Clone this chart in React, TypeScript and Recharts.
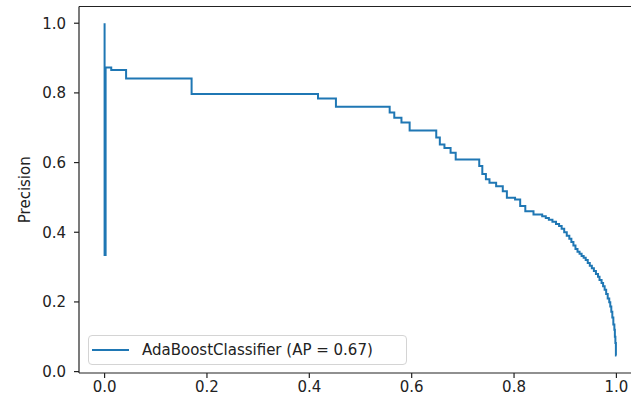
import { LineChart, Line, XAxis, YAxis, ReferenceLine, Legend } from 'recharts';

// precision-recall curve, ordered by increasing recall
const recall = [
  0, 0.002, 0.013, 0.042, 0.17, 0.417, 0.452, 0.557, 0.566, 0.58, 0.596, 0.648,
  0.655, 0.664, 0.676, 0.686, 0.732, 0.738, 0.745, 0.752, 0.765, 0.778, 0.786,
  0.802, 0.812, 0.822, 0.838, 0.855, 0.862, 0.868, 0.875, 0.882, 0.888, 0.893,
  0.898, 0.903, 0.908, 0.912, 0.916, 0.92, 0.924, 0.928, 0.932, 0.936, 0.94,
  0.944, 0.948, 0.952, 0.956, 0.96, 0.964, 0.967, 0.971, 0.974, 0.977, 0.98,
  0.983, 0.986, 0.988, 0.99, 0.992, 0.994, 0.996, 0.997, 0.998, 0.999, 1.0,
];
const precision = [
  1.0, 0.335, 0.873, 0.866, 0.841, 0.797, 0.784, 0.76, 0.744, 0.729, 0.715, 0.692,
  0.672, 0.652, 0.642, 0.628, 0.609, 0.59, 0.567, 0.552, 0.542, 0.532, 0.518,
  0.499, 0.494, 0.475, 0.46, 0.451, 0.446, 0.441, 0.436, 0.43, 0.424, 0.418,
  0.41, 0.4, 0.39, 0.381, 0.372, 0.362, 0.352, 0.344, 0.338, 0.332, 0.327,
  0.32, 0.312, 0.304, 0.297, 0.289, 0.28, 0.272, 0.263, 0.254, 0.245, 0.235,
  0.223, 0.21, 0.199, 0.187, 0.172, 0.155, 0.135, 0.12, 0.1, 0.082, 0.046,
];
const ticks = [0, 0.2, 0.4, 0.6, 0.8, 1.0];
const seriesName = 'AdaBoostClassifier';
const averagePrecision = 0.67;

const data = recall.map((r, i) => ({ recall: r, precision: precision[i] }));

const X_DOMAIN: [number, number] = [-0.05, 1.05];
const Y_DOMAIN: [number, number] = [-0.004, 1.048];

const FONT = '"DejaVu Sans", sans-serif';
const INK = '#222';
const BLUE = '#1f77b4';

const tickStyle = { fill: INK, fontSize: 15, fontFamily: FONT };

function YLabel({ viewBox }: any) {
  const cx = viewBox.x + 25;
  const cy = viewBox.y + viewBox.height / 2;
  return (
    <text
      x={cx}
      y={cy}
      transform={`rotate(-90, ${cx}, ${cy})`}
      textAnchor="middle"
      dominantBaseline="central"
      fill={INK}
      fontSize={15}
      fontFamily={FONT}
    >
      Precision
    </text>
  );
}

function LegendBox() {
  return (
    <div
      style={{
        boxSizing: 'border-box',
        width: 319,
        height: 30,
        border: '1px solid #d4d4d4',
        borderRadius: 4,
        background: 'rgba(255,255,255,0.8)',
        display: 'flex',
        alignItems: 'center',
        paddingLeft: 3,
      }}
    >
      <svg width={37} height={4}>
        <line x1={0} y1={2} x2={37} y2={2} stroke={BLUE} strokeWidth={2} />
      </svg>
      <span style={{ marginLeft: 13, fontSize: 15, fontFamily: FONT, color: INK, whiteSpace: 'nowrap' }}>
        {`${seriesName} (AP = ${averagePrecision.toFixed(2)})`}
      </span>
    </div>
  );
}

export default function App() {
  return (
    <div
      style={{
        position: 'absolute',
        left: 0,
        top: 0,
        width: 631,
        height: 401,
        overflow: 'hidden',
        background: '#fff',
      }}
    >
      <LineChart width={662} height={401} data={data} margin={{ top: 6.5, right: 20, bottom: 0, left: 0 }}>
        <XAxis
          dataKey="recall"
          type="number"
          domain={X_DOMAIN}
          ticks={ticks}
          tickFormatter={(v: number) => v.toFixed(1)}
          height={28}
          tickSize={5}
          tickMargin={3}
          tick={tickStyle}
          axisLine={{ stroke: INK, strokeWidth: 1.2 }}
          tickLine={{ stroke: INK, strokeWidth: 1.2 }}
          allowDataOverflow
        />
        <YAxis
          dataKey="precision"
          type="number"
          domain={Y_DOMAIN}
          ticks={ticks}
          tickFormatter={(v: number) => v.toFixed(1)}
          width={79}
          tickSize={5}
          tickMargin={8}
          tick={tickStyle}
          axisLine={{ stroke: INK, strokeWidth: 1.2 }}
          tickLine={{ stroke: INK, strokeWidth: 1.2 }}
          label={<YLabel />}
          allowDataOverflow
        />
        <ReferenceLine y={Y_DOMAIN[1]} stroke={INK} strokeWidth={1.2} />
        <ReferenceLine x={X_DOMAIN[1]} stroke={INK} strokeWidth={1.2} />
        <Line
          dataKey="precision"
          type="stepBefore"
          stroke={BLUE}
          strokeWidth={2}
          dot={false}
          isAnimationActive={false}
        />
        <Legend
          layout="horizontal"
          verticalAlign="middle"
          align="center"
          content={<LegendBox />}
          wrapperStyle={{ left: 88, top: 335, width: 319, height: 30 }}
        />
      </LineChart>
    </div>
  );
}
